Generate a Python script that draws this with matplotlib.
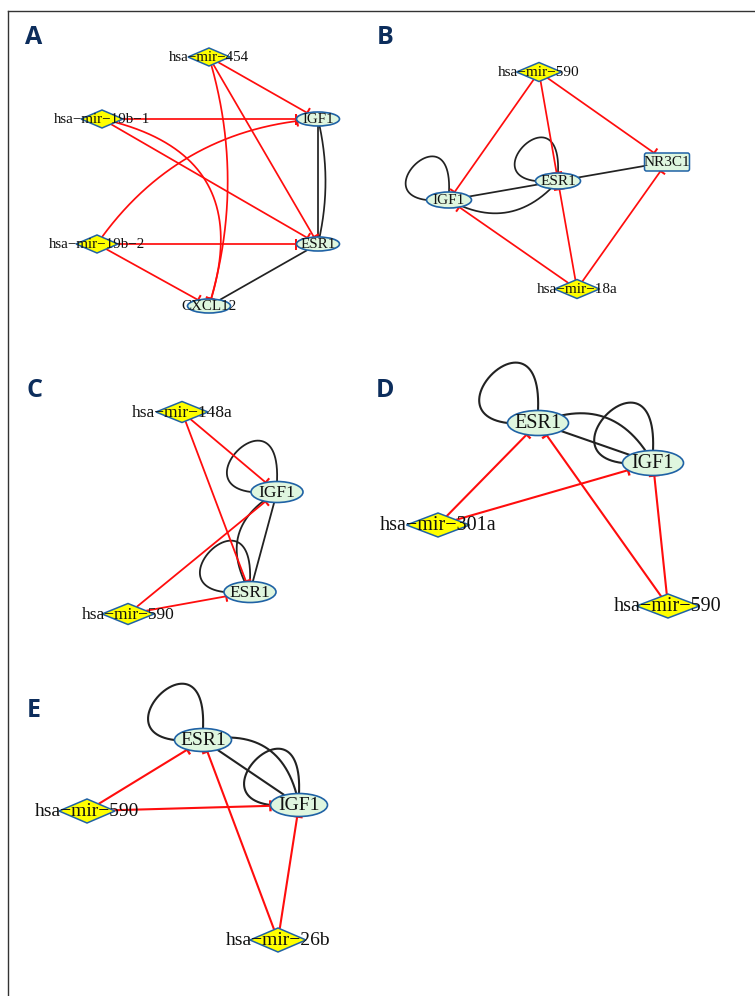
import numpy as np
import matplotlib
matplotlib.use("Agg")
import matplotlib.pyplot as plt
from matplotlib.patches import Ellipse, Polygon, FancyBboxPatch
from matplotlib.lines import Line2D

# ---------------------------------------------------------------- data
# miRNA -> target gene inhibition edges and gene-gene interactions per panel
panel_A_mirnas = ["hsa−mir−454", "hsa−mir−19b−1", "hsa−mir−19b−2"]
panel_A_genes = ["IGF1", "ESR1", "CXCL12"]
panel_A_inhibits = [
    ("hsa−mir−454", "IGF1", 0.0), ("hsa−mir−454", "ESR1", 0.0), ("hsa−mir−454", "CXCL12", 0.15),
    ("hsa−mir−19b−1", "IGF1", 0.0), ("hsa−mir−19b−1", "ESR1", 0.0), ("hsa−mir−19b−1", "CXCL12", 0.55),
    ("hsa−mir−19b−2", "IGF1", 0.24), ("hsa−mir−19b−2", "ESR1", 0.0), ("hsa−mir−19b−2", "CXCL12", 0.0),
]
panel_A_links = [("IGF1", "ESR1", 0.0), ("IGF1", "ESR1", 0.12), ("ESR1", "CXCL12", 0.0)]
panel_A_loops = []

panel_B_mirnas = ["hsa−mir−590", "hsa−mir−18a"]
panel_B_genes = ["IGF1", "ESR1", "NR3C1"]
panel_B_inhibits = [
    ("hsa−mir−590", "IGF1", 0.0), ("hsa−mir−590", "ESR1", 0.0), ("hsa−mir−590", "NR3C1", 0.0),
    ("hsa−mir−18a", "IGF1", 0.0), ("hsa−mir−18a", "ESR1", 0.0), ("hsa−mir−18a", "NR3C1", 0.0),
]
panel_B_links = [("IGF1", "ESR1", 0.0), ("IGF1", "ESR1", -0.4), ("ESR1", "NR3C1", 0.0)]
panel_B_loops = ["IGF1", "ESR1"]

panel_C_mirnas = ["hsa−mir−148a", "hsa−mir−590"]
panel_C_genes = ["IGF1", "ESR1"]
panel_C_inhibits = [
    ("hsa−mir−148a", "IGF1", 0.0), ("hsa−mir−148a", "ESR1", 0.0),
    ("hsa−mir−590", "IGF1", 0.0), ("hsa−mir−590", "ESR1", 0.0),
]
panel_C_links = [("IGF1", "ESR1", 0.0), ("IGF1", "ESR1", -0.5)]
panel_C_loops = ["IGF1", "ESR1"]

panel_D_mirnas = ["hsa−mir−301a", "hsa−mir−590"]
panel_D_genes = ["ESR1", "IGF1"]
panel_D_inhibits = [
    ("hsa−mir−301a", "ESR1", 0.0), ("hsa−mir−301a", "IGF1", 0.0),
    ("hsa−mir−590", "ESR1", 0.0), ("hsa−mir−590", "IGF1", 0.0),
]
panel_D_links = [("ESR1", "IGF1", 0.0), ("ESR1", "IGF1", 0.45)]
panel_D_loops = ["ESR1", "IGF1"]

panel_E_mirnas = ["hsa−mir−590", "hsa−mir−26b"]
panel_E_genes = ["ESR1", "IGF1"]
panel_E_inhibits = [
    ("hsa−mir−590", "ESR1", 0.0), ("hsa−mir−590", "IGF1", 0.0),
    ("hsa−mir−26b", "ESR1", 0.0), ("hsa−mir−26b", "IGF1", 0.0),
]
panel_E_links = [("ESR1", "IGF1", 0.0), ("ESR1", "IGF1", 0.5)]
panel_E_loops = ["ESR1", "IGF1"]

# ---------------------------------------------------------------- layout
# canvas coordinates (origin top-left, y downwards)
layout_A = {"hsa−mir−454": (209, 57), "hsa−mir−19b−1": (102, 119), "hsa−mir−19b−2": (97, 244),
            "IGF1": (318, 119), "ESR1": (318, 244), "CXCL12": (209, 306)}
layout_B = {"hsa−mir−590": (539, 72), "hsa−mir−18a": (577, 289),
            "IGF1": (449, 200), "ESR1": (558, 181), "NR3C1": (667, 162)}
layout_C = {"hsa−mir−148a": (182, 412), "hsa−mir−590": (128, 614),
            "IGF1": (277, 492), "ESR1": (250, 592)}
layout_D = {"hsa−mir−301a": (438, 525), "hsa−mir−590": (668, 606),
            "ESR1": (538, 423), "IGF1": (653, 463)}
layout_E = {"hsa−mir−590": (87, 811), "hsa−mir−26b": (278, 940),
            "ESR1": (203, 740), "IGF1": (299, 805)}

panels = [
    dict(tag="A", tag_xy=(34, 37), nodes=layout_A, mirnas=panel_A_mirnas, genes=panel_A_genes,
         inhibits=panel_A_inhibits, links=panel_A_links, loops=panel_A_loops,
         ell=(43, 14), dia=(42, 18), fs=10.8, lw=1.25, boxes=[]),
    dict(tag="B", tag_xy=(385, 37), nodes=layout_B, mirnas=panel_B_mirnas, genes=panel_B_genes,
         inhibits=panel_B_inhibits, links=panel_B_links, loops=panel_B_loops,
         ell=(45, 16), dia=(45, 19), fs=11, lw=1.25, boxes=["NR3C1"]),
    dict(tag="C", tag_xy=(35, 390), nodes=layout_C, mirnas=panel_C_mirnas, genes=panel_C_genes,
         inhibits=panel_C_inhibits, links=panel_C_links, loops=panel_C_loops,
         ell=(52, 21), dia=(52, 21), fs=12.5, lw=1.3, boxes=[]),
    dict(tag="D", tag_xy=(385, 390), nodes=layout_D, mirnas=panel_D_mirnas, genes=panel_D_genes,
         inhibits=panel_D_inhibits, links=panel_D_links, loops=panel_D_loops,
         ell=(61, 25), dia=(63, 24), fs=14.5, lw=1.5, boxes=[]),
    dict(tag="E", tag_xy=(34, 710), nodes=layout_E, mirnas=panel_E_mirnas, genes=panel_E_genes,
         inhibits=panel_E_inhibits, links=panel_E_links, loops=panel_E_loops,
         ell=(57, 23), dia=(56, 24), fs=14, lw=1.5, boxes=[]),
]

RED = "#ff0d0d"
DARK = "#222222"
NODE_EDGE = "#1f62a5"
GENE_FILL = "#dff6df"
MIR_FILL = "#ffff00"
TAG_COLOR = "#0c2d5c"

W, H = 755, 996
fig = plt.figure(figsize=(W / 100, H / 100), dpi=100)
ax = fig.add_axes([0, 0, 1, 1])
ax.set_xlim(0, W)
ax.set_ylim(H, 0)
ax.axis("off")

# outer frame (top and left rules)
ax.add_line(Line2D([8, W], [11, 11], color="#333333", lw=1.0))
ax.add_line(Line2D([8, 8], [11, H], color="#333333", lw=1.0))


def inside(kind, c, size, pts):
    a, b = size[0] / 2.0, size[1] / 2.0
    dx = (pts[:, 0] - c[0]) / a
    dy = (pts[:, 1] - c[1]) / b
    if kind == "ell":
        return dx ** 2 + dy ** 2 <= 1.0
    if kind == "dia":
        return np.abs(dx) + np.abs(dy) <= 1.0
    return (np.abs(dx) <= 1.0) & (np.abs(dy) <= 1.0)


def shape_of(p, name):
    if name in p["mirnas"]:
        return "dia", p["dia"]
    if name in p["boxes"]:
        return "box", (p["ell"][0], p["ell"][1] + 2)
    return "ell", p["ell"]


def edge_path(p, s, t, rad):
    P0 = np.array(p["nodes"][s], float)
    P2 = np.array(p["nodes"][t], float)
    d = P2 - P0
    L = np.hypot(*d)
    n = np.array([d[1], -d[0]]) / L
    P1 = (P0 + P2) / 2 + rad * L * n
    tt = np.linspace(0, 1, 800)[:, None]
    pts = (1 - tt) ** 2 * P0 + 2 * (1 - tt) * tt * P1 + tt ** 2 * P2
    ks, ss = shape_of(p, s)
    kt, st = shape_of(p, t)
    keep = ~inside(ks, P0, ss, pts) & ~inside(kt, P2, st, pts)
    return pts[keep]


for p in panels:
    lw = p["lw"]
    # gene-gene links
    for s, t, rad in p["links"]:
        pts = edge_path(p, s, t, rad)
        ax.plot(pts[:, 0], pts[:, 1], color=DARK, lw=lw, zorder=1, solid_capstyle="butt")
    # self loops: from the left of the node round to its top
    for g in p["loops"]:
        cx, cy = p["nodes"][g]
        a, b = p["ell"][0] / 2.0, p["ell"][1] / 2.0
        k = p["ell"][0] / 61.0
        P0 = np.array([cx - a, cy])
        P3 = np.array([cx, cy - b])
        P1 = P0 + k * np.array([-80, -10])
        P2 = P3 + k * np.array([5, -110])
        tt = np.linspace(0, 1, 300)[:, None]
        pts = ((1 - tt) ** 3 * P0 + 3 * (1 - tt) ** 2 * tt * P1
               + 3 * (1 - tt) * tt ** 2 * P2 + tt ** 3 * P3)
        ax.plot(pts[:, 0], pts[:, 1], color=DARK, lw=lw, zorder=1)
    # miRNA inhibition edges with flat bar heads
    for s, t, rad in p["inhibits"]:
        pts = edge_path(p, s, t, rad)
        ax.plot(pts[:, 0], pts[:, 1], color=RED, lw=lw, zorder=1, solid_capstyle="butt")
        end = pts[-1]
        tan = pts[-1] - pts[-6]
        tan /= np.hypot(*tan)
        perp = np.array([-tan[1], tan[0]]) * 5.5
        ax.plot([end[0] - perp[0], end[0] + perp[0]], [end[1] - perp[1], end[1] + perp[1]],
                color=RED, lw=lw + 0.2, zorder=1, solid_capstyle="butt")
    # nodes
    for name, (cx, cy) in p["nodes"].items():
        kind, (w, h) = shape_of(p, name)
        if kind == "dia":
            patch = Polygon([(cx - w / 2, cy), (cx, cy - h / 2), (cx + w / 2, cy), (cx, cy + h / 2)],
                            closed=True, facecolor=MIR_FILL, edgecolor=NODE_EDGE, lw=1.1, zorder=2)
        elif kind == "box":
            patch = FancyBboxPatch((cx - w / 2 + 2, cy - h / 2 + 2), w - 4, h - 4,
                                   boxstyle="round,pad=2", facecolor=GENE_FILL,
                                   edgecolor=NODE_EDGE, lw=1.1, zorder=2)
        else:
            patch = Ellipse((cx, cy), w, h, facecolor=GENE_FILL, edgecolor=NODE_EDGE,
                            lw=1.2, zorder=2)
        ax.add_patch(patch)
        ax.text(cx, cy + 0.5, name, ha="center", va="center", fontsize=p["fs"],
                family="Liberation Serif", color="#111111", zorder=3)
    ax.text(p["tag_xy"][0], p["tag_xy"][1], p["tag"], ha="center", va="center",
            fontsize=18, fontweight="bold", family="Open Sans", color=TAG_COLOR, zorder=3)

fig.savefig("out.png", dpi=100)
